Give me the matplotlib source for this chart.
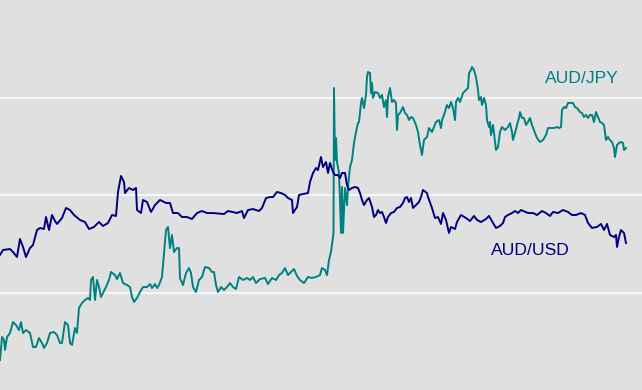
import matplotlib
matplotlib.use("Agg")
import matplotlib.pyplot as plt

# AUD/USD (index level) by day index
usd_t = [0, 3, 10, 13, 17, 20, 23, 26, 30, 33, 37, 40, 44, 46, 49, 52, 55, 57, 62, 66,
         70, 74, 80, 85, 89, 94, 99, 103, 108, 112, 116, 118, 121, 124, 125, 129, 133, 136, 137, 141,
         143, 147, 151, 155, 160, 166, 170, 173, 178, 182, 187, 192, 197, 202, 207, 213, 224, 228, 237, 242,
         244, 248, 253, 259, 262, 266, 270, 273, 277, 281, 285, 288, 292, 293, 297, 299, 303, 308, 310, 313,
         316, 318, 321, 323, 326, 328, 330, 333, 335, 338, 340, 342, 345, 347, 349, 352, 355, 358, 360, 362,
         364, 367, 369, 372, 374, 376, 378, 380, 382, 384, 386, 388, 391, 394, 397, 400, 403, 405, 407, 409,
         411, 413, 416, 419, 421, 423, 427, 428, 432, 435, 438, 441, 443, 446, 449, 451, 455, 457, 461, 466,
         470, 474, 477, 481, 486, 489, 493, 496, 500, 503, 505, 508, 512, 515, 518, 521, 528, 533, 537, 542,
         546, 550, 553, 558, 563, 568, 572, 576, 581, 585, 588, 592, 597, 601, 604, 607, 610, 614, 616, 617,
         619, 621, 624, 626]
usd_v = [138.5, 143.6, 144.6, 141.5, 136.4, 154.9, 146.7, 136.4, 145.6, 148.7, 164.1, 166.2, 165.1, 177.4, 164.1, 179.5, 173.3, 170.3, 176.4, 186.7,
         184.6, 179.5, 174.4, 172.3, 165.1, 167.2, 172.3, 168.2, 171.3, 179.5, 178.5, 203.1, 219.5, 213.3, 202.0, 207.2, 205.1, 207.2, 184.6, 181.5,
         194.9, 192.8, 182.6, 189.7, 194.9, 191.8, 191.8, 181.5, 181.5, 177.4, 177.4, 175.4, 181.5, 183.6, 181.5, 181.5, 180.5, 183.6, 181.5, 183.6,
         176.4, 184.6, 185.6, 183.6, 186.7, 196.9, 197.9, 197.9, 203.1, 202.0, 200.0, 196.9, 194.9, 181.5, 187.7, 200.0, 201.0, 202.0, 213.3, 222.6,
         227.7, 225.6, 239.0, 228.7, 233.8, 222.6, 232.8, 223.6, 220.5, 220.5, 217.4, 222.6, 222.6, 210.3, 205.1, 207.2, 208.2, 207.2, 202.0, 194.9,
         189.7, 194.9, 196.9, 187.7, 177.4, 179.5, 184.6, 181.5, 182.6, 177.4, 171.3, 177.4, 181.5, 182.6, 186.7, 187.7, 191.8, 196.9, 197.9, 192.8,
         196.9, 186.7, 189.7, 192.8, 197.9, 205.1, 202.0, 197.9, 186.7, 176.4, 177.4, 170.3, 181.5, 174.4, 161.0, 167.2, 165.1, 172.3, 179.5, 176.4,
         173.3, 178.5, 174.4, 172.3, 175.4, 178.5, 171.3, 166.2, 168.2, 171.3, 177.4, 179.5, 181.5, 183.6, 181.5, 184.6, 181.5, 181.5, 179.5, 183.6,
         181.5, 178.5, 182.6, 181.5, 184.6, 182.6, 179.5, 179.5, 181.5, 179.5, 171.3, 166.2, 167.2, 170.3, 164.1, 170.3, 159.0, 156.9, 159.0, 146.7,
         156.9, 164.1, 161.0, 150.8]

# AUD/JPY (index level) by day index
jpy_t = [0, 2, 4, 5, 7, 10, 13, 16, 19, 21, 23, 26, 30, 33, 36, 39, 42, 44, 47, 50,
         54, 57, 60, 62, 65, 68, 70, 72, 75, 77, 79, 82, 85, 88, 90, 91, 93, 95, 97, 99,
         101, 103, 106, 109, 111, 115, 117, 120, 123, 127, 130, 132, 134, 137, 140, 143, 147, 150, 152, 155,
         157, 159, 162, 164, 166, 168, 170, 172, 174, 177, 179, 180, 183, 186, 189, 191, 193, 196, 199, 202,
         205, 209, 212, 214, 216, 218, 221, 224, 227, 230, 233, 236, 239, 243, 247, 250, 253, 256, 260, 265,
         268, 272, 276, 279, 282, 285, 288, 291, 294, 297, 300, 304, 308, 312, 316, 320, 322, 325, 327, 329,
         331, 333, 333.5, 334, 335, 336, 337, 339, 340, 341, 342, 343, 345, 347, 348, 350, 352, 354, 356, 358,
         359, 361, 362, 364, 366, 367, 368, 370, 371, 372, 373, 375, 378, 380, 382, 384, 386, 387, 388, 390,
         392, 394, 396, 397, 398, 400, 403, 405, 407, 409, 411, 413, 416, 418, 420, 422, 424, 427, 429, 432,
         434, 436, 439, 441, 442, 444, 447, 449, 451, 453, 455, 456, 458, 460, 463, 466, 468, 469, 471, 472,
         474, 476, 478, 479, 481, 482, 484, 486, 487, 489, 490, 491, 493, 494, 496, 498, 500, 502, 505, 508,
         510, 512, 513, 515, 517, 519, 520, 522, 524, 526, 528, 530, 532, 535, 537, 540, 543, 546, 548, 551,
         554, 557, 559, 561, 562, 564, 566, 568, 571, 573, 575, 577, 580, 582, 584, 586, 588, 590, 592, 594,
         596, 598, 600, 602, 604, 606, 608, 610, 612, 614, 615, 617, 619, 621, 623, 624, 626]
jpy_v = [30.8, 54.4, 51.3, 41.0, 54.4, 58.5, 69.7, 66.7, 61.5, 69.7, 58.5, 61.5, 58.5, 44.1, 44.1, 53.3, 48.2, 43.1, 48.2, 58.5,
         59.5, 56.4, 48.2, 48.2, 69.7, 66.7, 48.2, 46.2, 63.6, 58.5, 84.1, 89.2, 92.3, 94.4, 92.3, 112.8, 115.9, 92.3, 112.8, 105.6,
         95.4, 99.5, 105.6, 112.8, 121.0, 117.9, 113.8, 120.0, 109.7, 107.7, 105.6, 95.4, 90.3, 94.4, 100.5, 105.6, 105.6, 108.7, 104.6, 108.7,
         104.6, 107.7, 115.9, 140.5, 164.1, 167.2, 145.6, 159.0, 141.5, 145.6, 145.6, 114.9, 107.7, 120.0, 125.1, 120.0, 105.6, 100.5, 112.8, 115.9,
         126.2, 125.1, 121.0, 121.0, 107.7, 100.5, 105.6, 102.6, 105.6, 109.7, 105.6, 103.6, 115.9, 112.8, 114.9, 112.8, 115.9, 109.7, 113.8, 114.9,
         108.7, 114.9, 112.8, 117.9, 120.0, 125.1, 117.9, 121.0, 124.1, 116.9, 112.8, 109.7, 115.9, 114.9, 115.9, 117.9, 125.1, 123.1, 117.9, 133.3,
         141.5, 156.9, 161.0, 309.7, 235.9, 258.5, 233.8, 222.6, 194.9, 161.0, 208.2, 161.0, 207.2, 189.7, 208.2, 228.7, 235.9, 253.3, 264.6, 273.8,
         274.9, 294.4, 299.5, 289.2, 302.6, 321.0, 326.2, 325.1, 304.6, 314.9, 299.5, 305.6, 304.6, 299.5, 302.6, 290.2, 297.4, 280.0, 300.5, 309.7,
         295.4, 297.4, 294.4, 266.7, 282.1, 284.1, 290.2, 284.1, 282.1, 276.9, 280.0, 279.0, 271.8, 264.6, 251.3, 241.0, 256.4, 259.5, 268.7, 264.6,
         269.7, 274.9, 276.9, 268.7, 276.9, 282.1, 292.3, 289.2, 295.4, 289.2, 276.9, 295.4, 299.5, 295.4, 304.6, 307.7, 309.7, 325.1, 328.2, 331.3,
         328.2, 321.0, 307.7, 297.4, 300.5, 292.3, 299.5, 292.3, 276.9, 269.7, 274.9, 261.5, 271.8, 263.6, 246.2, 249.2, 264.6, 269.7, 266.7, 269.7,
         273.8, 264.6, 256.4, 263.6, 271.8, 279.0, 285.1, 279.0, 279.0, 271.8, 274.9, 279.0, 271.8, 263.6, 258.5, 254.4, 256.4, 261.5, 268.7, 268.7,
         268.7, 269.7, 268.7, 269.7, 287.2, 290.2, 289.2, 294.4, 294.4, 294.4, 290.2, 289.2, 285.1, 284.1, 280.0, 282.1, 279.0, 282.1, 282.1, 274.9,
         285.1, 280.0, 274.9, 273.8, 271.8, 256.4, 259.5, 256.4, 254.4, 248.2, 239.0, 251.3, 253.3, 254.4, 253.3, 246.2, 248.2]

series_labels = ["AUD/JPY", "AUD/USD"]
grid_levels = [100, 200, 300]

jpy_color = "#008080"
usd_color = "#000080"

fig = plt.figure(figsize=(6.42, 3.9), dpi=100)
ax = fig.add_axes([0, 0, 1, 1])
ax.set_facecolor("#e0e0e0")
fig.patch.set_facecolor("#e0e0e0")

for g in grid_levels:
    ax.axhline(g, color="white", linewidth=1.1, zorder=1)

ax.plot(jpy_t, jpy_v, color=jpy_color, linewidth=1.4, zorder=3)
ax.plot(usd_t, usd_v, color=usd_color, linewidth=1.4, zorder=3)

ax.text(582, 319, series_labels[0], color=jpy_color, fontsize=12.6,
        family="Liberation Sans", ha="center", va="center")
ax.text(530, 143, series_labels[1], color=usd_color, fontsize=12.6,
        family="Liberation Sans", ha="center", va="center")

ax.set_xlim(0, 642)
ax.set_ylim(0, 400)
ax.set_xticks([])
ax.set_yticks([])
for s in ax.spines.values():
    s.set_visible(False)

fig.savefig("out.png", dpi=100, facecolor=fig.get_facecolor())
